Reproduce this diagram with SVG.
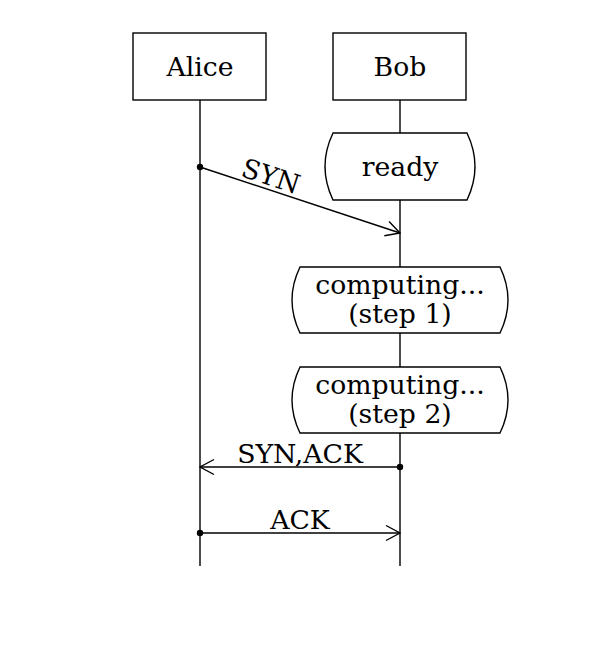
<svg xmlns="http://www.w3.org/2000/svg" width="600" height="667" viewBox="0 0 600 667">
<defs>
<style>
.box{fill:#fff;stroke:#000;stroke-width:1.4}
.life{stroke:#000;stroke-width:1.4;fill:none}
.msg{stroke:#000;stroke-width:1.4;fill:none}
.t{font-family:"DejaVu Serif",serif;font-size:26.7px;fill:#000;text-anchor:middle}
</style>
<marker id="arr" viewBox="0 0 16 18" refX="15" refY="9" markerWidth="16" markerHeight="18" markerUnits="userSpaceOnUse" orient="auto">
<path d="M1,1.5 L15,9 L1,16.5" fill="none" stroke="#000" stroke-width="1.4"/>
</marker>
<marker id="dot" viewBox="0 0 8 8" refX="4" refY="4" markerWidth="8" markerHeight="8" markerUnits="userSpaceOnUse">
<circle cx="4" cy="4" r="3.2" fill="#000"/>
</marker>
</defs>
<rect width="600" height="667" fill="#fff"/>
<g id="lifelines">
<line class="life" x1="200" y1="100" x2="200" y2="566"/>
<line class="life" x1="400" y1="100" x2="400" y2="566"/>
</g>
<g id="alice">
<rect class="box" x="133" y="33" width="133" height="67"/>
<text class="t" x="200" y="76">Alice</text>
</g>
<g id="bob">
<rect class="box" x="333" y="33" width="133" height="67"/>
<text class="t" x="400" y="76">Bob</text>
</g>
<g id="ready">
<path class="box" d="M333,133 L467,133 Q483,166.5 467,200 L333,200 Q317,166.5 333,133 Z"/>
<text class="t" x="400" y="176">ready</text>
</g>
<g id="step1">
<path class="box" d="M300,267 L500,267 Q516,300 500,333 L300,333 Q284,300 300,267 Z"/>
<text class="t" x="400" y="294">computing...</text>
<text class="t" x="400" y="323">(step 1)</text>
</g>
<g id="step2">
<path class="box" d="M300,367 L500,367 Q516,400 500,433 L300,433 Q284,400 300,367 Z"/>
<text class="t" x="400" y="394">computing...</text>
<text class="t" x="400" y="423">(step 2)</text>
</g>
<g id="connectors">
<line class="msg" x1="200" y1="167" x2="400" y2="233" marker-start="url(#dot)" marker-end="url(#arr)"/>
<text class="t" transform="translate(268,185) rotate(18.26)" x="0" y="0">SYN</text>
<line class="msg" x1="400" y1="467" x2="200" y2="467" marker-start="url(#dot)" marker-end="url(#arr)"/>
<text class="t" x="300" y="463">SYN,ACK</text>
<line class="msg" x1="200" y1="533" x2="400" y2="533" marker-start="url(#dot)" marker-end="url(#arr)"/>
<text class="t" x="300" y="529">ACK</text>
</g>
</svg>
